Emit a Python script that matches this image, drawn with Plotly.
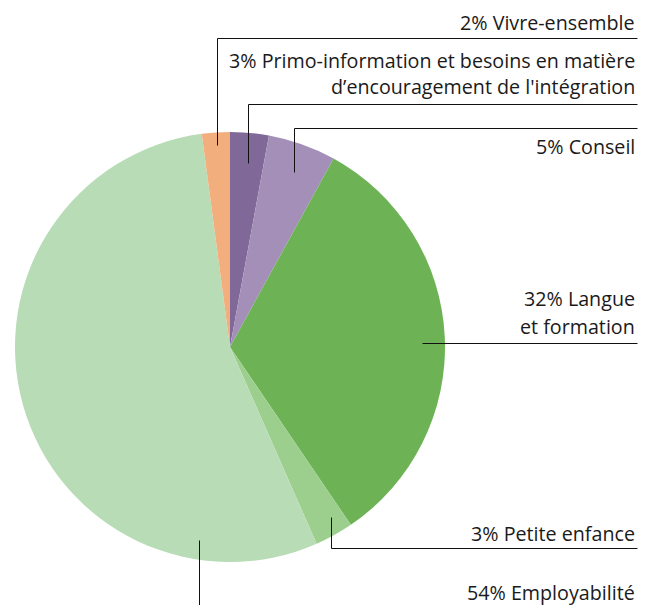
import plotly.graph_objects as go

# ---- data ----
categories = [
    "Primo-information et besoins en matière d’encouragement de l'intégration",
    "Conseil",
    "Langue et formation",
    "Petite enfance",
    "Employabilité",
    "Vivre-ensemble",
]
values = [2.9, 5.1, 32.5, 2.9, 54.5, 2.1]
pct_labels = ["3%", "5%", "32%", "3%", "54%", "2%"]
label_lines = [
    ["3% Primo-information et besoins en matière", "d’encouragement de l'intégration"],
    ["5% Conseil"],
    ["32% Langue", "et formation"],
    ["3% Petite enfance"],
    ["54% Employabilité"],
    ["2% Vivre-ensemble"],
]
colors = ["#806898", "#a38fb7", "#6db356", "#9ccf8d", "#b8dcb5", "#f3ae7e"]

# ---- layout (pixels) ----
W, H = 654, 605
CX, CY, R = 230, 347, 215
TEXT_RIGHT = 637
# text line centers (y px) for each label line
text_y = [[61, 87], [146], [299, 326], [533], [592], [22]]
# leader polylines (px) per category
leaders = [
    [(248, 163), (248, 104), (637, 104)],
    [(294, 172), (294, 128), (637, 128)],
    [(422, 343), (637, 343)],
    [(331, 517), (331, 548), (637, 548)],
    [(199, 540), (199, 606)],
    [(217, 145), (217, 38), (637, 38)],
]

def px(x):
    return x / W

def py(y):
    return 1 - y / H

fig = go.Figure(go.Pie(
    labels=categories,
    values=values,
    marker=dict(colors=colors, line=dict(width=0)),
    sort=False,
    direction="clockwise",
    rotation=0,
    textinfo="none",
    hoverinfo="label+percent",
    domain=dict(x=[px(CX - R), px(CX + R)], y=[py(CY + R), py(CY - R)]),
    showlegend=False,
))

shapes = []
for path in leaders:
    d = "M " + " L ".join(f"{px(x + 0.5)},{py(y + 0.5)}" for x, y in path)
    shapes.append(dict(type="path", path=d, xref="paper", yref="paper",
                       line=dict(color="#111111", width=1)))

annotations = []
for lines, ys in zip(label_lines, text_y):
    for t, y in zip(lines, ys):
        annotations.append(dict(
            text=t, x=px(TEXT_RIGHT), y=py(y), xref="paper", yref="paper",
            xanchor="right", yanchor="middle", showarrow=False,
            font=dict(family="Open Sans, Noto Sans, sans-serif", size=19.7, color="#1a1a1a"),
        ))

fig.update_layout(
    width=W, height=H,
    margin=dict(l=0, r=0, t=0, b=0),
    paper_bgcolor="white",
    plot_bgcolor="white",
    shapes=shapes,
    annotations=annotations,
)

fig.write_html("out.html", config={"displayModeBar": False},
               post_script="document.body.style.margin='0';")
